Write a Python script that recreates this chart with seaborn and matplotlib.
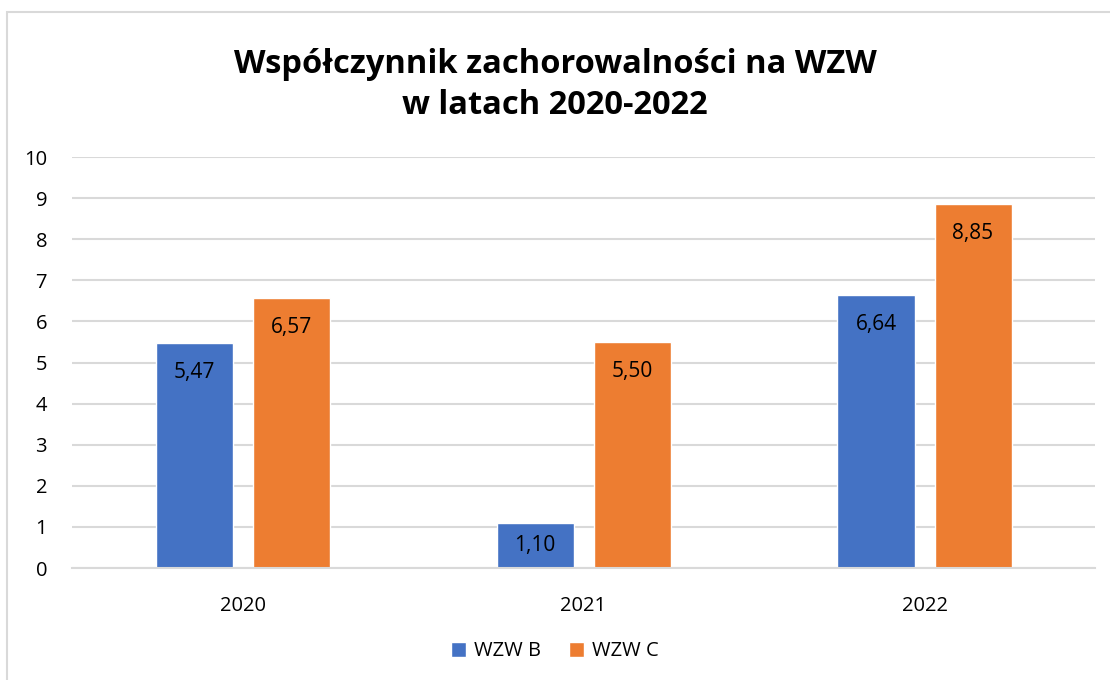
import matplotlib
matplotlib.use("Agg")
import matplotlib.pyplot as plt
import seaborn as sns
import pandas as pd
from matplotlib.patches import Rectangle

years = ["2020", "2021", "2022"]
series = ["WZW B", "WZW C"]
wzw_b = [5.47, 1.10, 6.64]
wzw_c = [6.57, 5.50, 8.85]
colors = ["#4472C4", "#ED7D31"]
title = "Współczynnik zachorowalności na WZW\nw latach 2020-2022"

sns.set_theme(style="white")
plt.rcParams["font.family"] = ["Open Sans", "DejaVu Sans"]
plt.rcParams["text.color"] = "black"

df = pd.DataFrame({
    "rok": years * 2,
    "seria": [series[0]] * 3 + [series[1]] * 3,
    "wartosc": wzw_b + wzw_c,
})

fig = plt.figure(figsize=(11.1, 6.8), dpi=100)
fig.patches.append(Rectangle((7 / 1110, -0.1), 1.2, 1 - 12 / 680 + 0.1,
                             transform=fig.transFigure, fill=False,
                             edgecolor="#d9d9d9", linewidth=1.5))
ax = fig.add_axes([0.0649, 0.1647, 0.9216, 0.6044])
sns.barplot(data=df, x="rok", y="wartosc", hue="seria", palette=colors,
            width=0.569, gap=0.206, ax=ax, saturation=1, legend=True)

ax.set_ylim(0, 10)
ax.set_xlim(-0.5, 2.5)
ax.set_yticks(range(0, 11))
ax.yaxis.grid(True, color="#d9d9d9", linewidth=1.5)
ax.set_axisbelow(True)
for s in ["top", "right", "left"]:
    ax.spines[s].set_visible(False)
ax.spines["bottom"].set_color("#d9d9d9")
ax.spines["bottom"].set_linewidth(1.5)
ax.tick_params(axis="both", length=0, labelsize=14.5, colors="#000000")
ax.tick_params(axis="y", pad=18)
ax.tick_params(axis="x", pad=20)
ax.set_xlabel("")
ax.set_ylabel("")

pt_per_unit = ax.bbox.height / 10 * 72 / fig.dpi
for cont in ax.containers:
    for rect in cont:
        h = rect.get_height()
        off = min(21, h * pt_per_unit / 2)
        ax.annotate(f"{h:.2f}".replace(".", ","),
                    (rect.get_x() + rect.get_width() / 2, h),
                    xytext=(0, -off), textcoords="offset points",
                    ha="center", va="center", fontsize=15, color="black")

fig.text(0.5, 0.875, title, ha="center", va="center", fontsize=23.5,
         fontweight="bold", linespacing=1.3, color="black")

handles, labels = ax.get_legend_handles_labels()
ax.legend_.remove()
leg = fig.legend(handles, labels, loc="center", bbox_to_anchor=(0.5, 0.042),
                 ncol=2, frameon=False, fontsize=14.5, handlelength=0.75,
                 handleheight=0.75, handletextpad=0.4, columnspacing=1.4)
for t in leg.get_texts():
    t.set_color("black")

fig.savefig("out.png", dpi=100)
